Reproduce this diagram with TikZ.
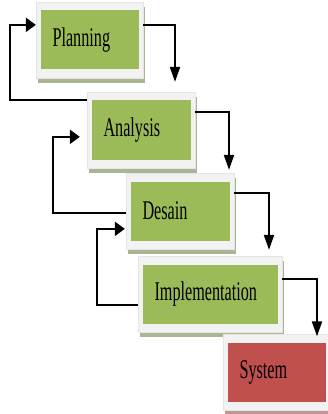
\documentclass[tikz,border=0pt]{standalone}
\usepackage{fontspec}
\setmainfont{Liberation Serif}
\usetikzlibrary{calc,arrows.meta}
\definecolor{boxgreen}{RGB}{155,187,89}
\definecolor{boxred}{RGB}{192,80,77}
\definecolor{framegray}{RGB}{242,242,242}
\definecolor{shadowgreen}{RGB}{168,182,148}
\definecolor{shadowred}{RGB}{190,150,150}
\newcommand{\lbl}[1]{\scalebox{0.60}[1]{#1}}
\begin{document}
\begin{tikzpicture}[x=1pt,y=-1pt,
  frame/.style={fill=framegray,draw=gray!20,line width=0.3pt,minimum height=76pt,inner sep=0pt},
  shadowbox/.style={minimum height=76pt,inner sep=0pt},
  stage/.style={minimum height=59pt,inner xsep=12pt,inner ysep=0pt,align=left,
    font=\fontsize{27}{27}\selectfont,text=black},
  harr/.style={line width=2.2pt,-{Triangle[length=10pt,width=14pt]}},
  varr/.style={line width=2pt,-{Triangle[length=15pt,width=10pt]}}]
\useasboundingbox (0,0) rectangle (327,414);
% shadows
\node[shadowbox,fill=shadowgreen,minimum width=107pt] (sP) at (91,45) {};
\node[shadowbox,fill=shadowgreen,minimum width=108pt] (sA) at (142.5,135) {};
\node[shadowbox,fill=shadowgreen,minimum width=108pt] (sD) at (181.5,216) {};
\node[shadowbox,fill=shadowgreen,minimum width=144pt] (sI) at (211.5,299) {};
\node[shadowbox,fill=shadowred,minimum width=107pt] (sS) at (278,377) {};
% frames
\node[frame,minimum width=107pt] (fP) at (89.5,40) {};
\node[frame,minimum width=108pt] (fA) at (141,130) {};
\node[frame,minimum width=108pt] (fD) at (180,211) {};
\node[frame,minimum width=144pt] (fI) at (210,294) {};
\node[frame,minimum width=107pt] (fS) at (276.5,372.5) {};
% stage boxes
\node[stage,fill=boxgreen,text width=74pt] (P) at (fP.center) {\lbl{Planning}};
\node[stage,fill=boxgreen,text width=75pt] (A) at (fA.center) {\lbl{Analysis}};
\node[stage,fill=boxgreen,text width=75pt] (D) at (fD.center) {\lbl{Desain}};
\node[stage,fill=boxgreen,text width=111pt] (I) at (fI.center) {\lbl{Implementation}};
\node[stage,fill=boxred,text width=74pt] (S) at (fS.center) {\lbl{System}};
% forward arrows
\draw[varr] ($(fP.north east)+(0,23)$) -| ($(fA.north)+(34,-10)$);
\draw[varr] ($(fA.north east)+(0,20)$) -| ($(fD.north)+(49,-3)$);
\draw[varr] ($(fD.north east)+(0,20)$) -| ($(fI.north)+(59,-6)$);
\draw[varr] ($(fI.north east)+(0,23)$) -| ($(fS.north)+(40.5,2)$);
% feedback arrows
\draw[harr] ($(fA.north west)+(0,8)$) -| ($(fP.north west)+(-26,23)$) -- ($(fP.north west)+(0,23)$);
\draw[harr] ($(fD.north west)+(0,40)$) -| ($(fA.north west)+(-34,45)$) -- ($(fA.north west)+(-7,45)$);
\draw[harr] ($(fI.north west)+(0,49)$) -| ($(fD.north west)+(-29,56)$) -- ($(fD.north west)+(-1,56)$);
\end{tikzpicture}
\end{document}
